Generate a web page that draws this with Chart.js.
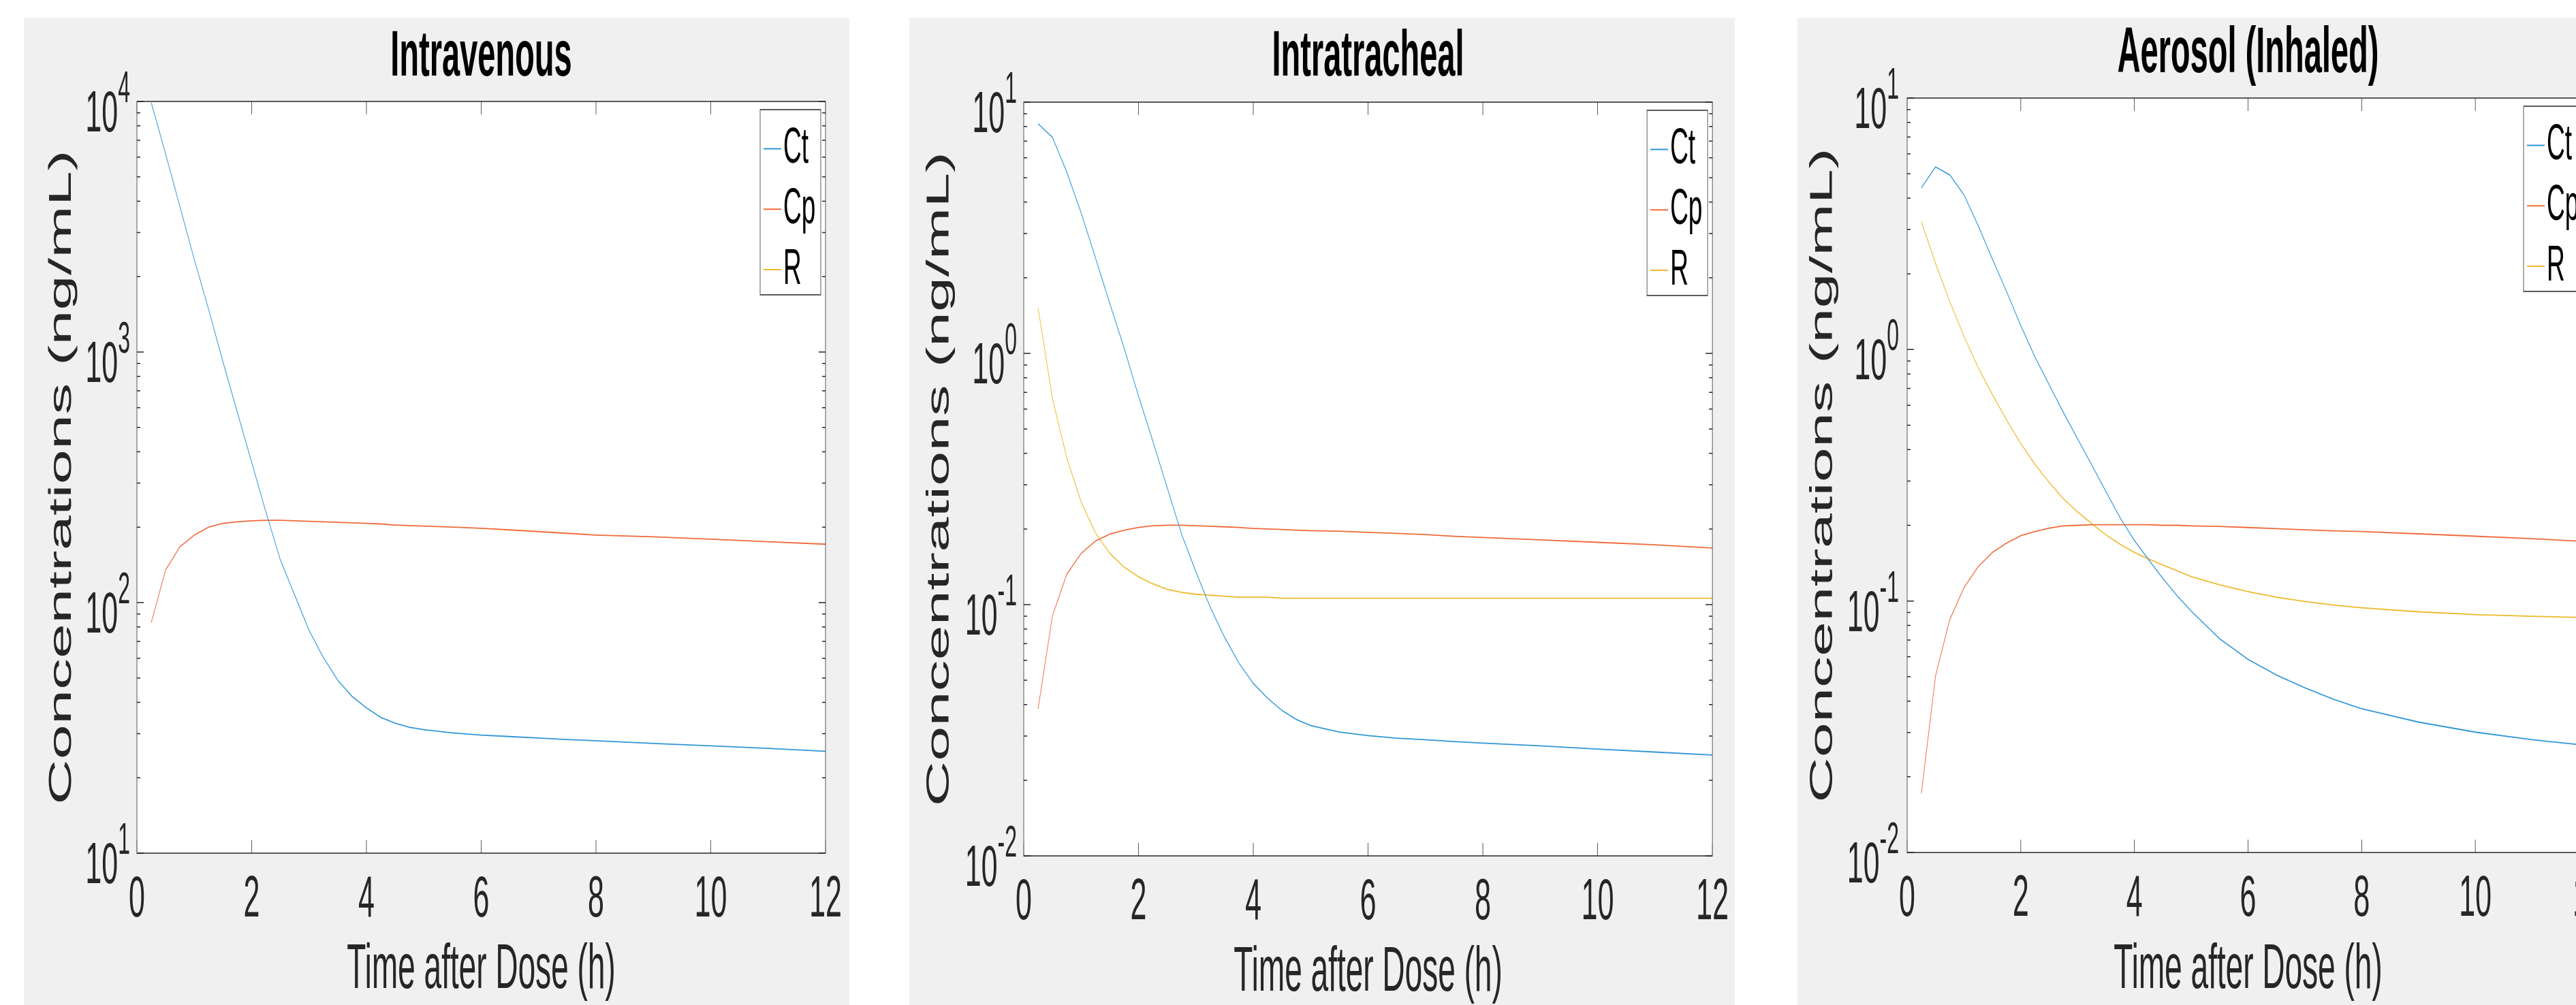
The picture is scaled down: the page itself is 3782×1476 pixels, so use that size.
<!DOCTYPE html>
<html>
<head>
<meta charset="utf-8">
<script src="https://cdn.jsdelivr.net/npm/chart.js@4.4.1/dist/chart.umd.min.js"></script>
<style>
    html, body { margin: 0; padding: 0; background: #ffffff; }
    body { width: 3782px; height: 1476px; position: relative; overflow: hidden; }
    /* the figure is stretched 2x vertically, as in the reference */
    .panel { position: absolute; top: 26px; width: 1212px; height: 725px; background: #f0f0f0;
             transform: scaleY(2); transform-origin: 0 0; }
</style>
</head>
<body>
<div class="panel" style="left:35px"><canvas id="ivChart" width="1212" height="725"></canvas></div>
<div class="panel" style="left:1335px"><canvas id="itChart" width="1212" height="725"></canvas></div>
<div class="panel" style="left:2639px"><canvas id="aeChart" width="1212" height="725"></canvas></div>
<script>
// time after dose (h)
const timeH = [0.25, 0.5, 0.75, 1, 1.25, 1.5, 1.75, 2, 2.25, 2.5, 2.75, 3, 3.25, 3.5, 3.75,
    4, 4.25, 4.5, 4.75, 5, 5.5, 6, 6.5, 7, 7.5, 8, 9, 10, 11, 12];

// Intravenous
const ivCt = [9890, 6170, 3800, 2340, 1480, 912, 575, 363, 229, 148, 107, 77.6, 60.3, 49.0, 42.2,
    38.0, 34.8, 33.0, 31.8, 31.1, 30.2, 29.6, 29.2, 28.8, 28.4, 28.1, 27.4, 26.8, 26.2, 25.5];
const ivCp = [83.2, 135, 167, 186, 200, 207, 210, 212, 213, 213, 212, 211, 210, 209, 208,
    207, 206, 204, 203, 202, 200, 198, 195, 192, 189, 186, 183, 179, 175, 171];
const ivR = [];

// Intratracheal
const itCt = [8.20, 7.24, 5.27, 3.63, 2.40, 1.58, 1.05, 0.676, 0.447, 0.292, 0.191, 0.135, 0.0977, 0.0741, 0.0585,
    0.0486, 0.0424, 0.0379, 0.0349, 0.0330, 0.0311, 0.0301, 0.0294, 0.0290, 0.0285, 0.0281, 0.0274, 0.0266, 0.0259, 0.0252];
const itCp = [0.0385, 0.0902, 0.132, 0.160, 0.179, 0.191, 0.198, 0.203, 0.206, 0.207, 0.207, 0.206, 0.205, 0.204, 0.203,
    0.201, 0.200, 0.199, 0.198, 0.197, 0.196, 0.194, 0.192, 0.190, 0.187, 0.185, 0.181, 0.177, 0.173, 0.168];
const itR = [1.52, 0.662, 0.384, 0.256, 0.193, 0.160, 0.141, 0.129, 0.121, 0.115, 0.112, 0.110, 0.109, 0.108, 0.107,
    0.107, 0.107, 0.106, 0.106, 0.106, 0.106, 0.106, 0.106, 0.106, 0.106, 0.106, 0.106, 0.106, 0.106, 0.106];

// Aerosol (Inhaled)
const aeCt = [4.39, 5.32, 4.95, 4.12, 3.11, 2.29, 1.70, 1.245, 0.933, 0.724, 0.562, 0.442, 0.347, 0.272, 0.214,
    0.174, 0.146, 0.123, 0.105, 0.0912, 0.0708, 0.0586, 0.0508, 0.0452, 0.0407, 0.0373, 0.0330, 0.0301, 0.0281, 0.0266];
const aeCp = [0.0172, 0.0504, 0.0843, 0.113, 0.137, 0.156, 0.170, 0.182, 0.189, 0.195, 0.199, 0.200, 0.201, 0.201, 0.201,
    0.201, 0.201, 0.200, 0.200, 0.199, 0.198, 0.196, 0.194, 0.192, 0.190, 0.189, 0.185, 0.181, 0.177, 0.172];
const aeR = [3.22, 2.20, 1.55, 1.13, 0.847, 0.662, 0.525, 0.423, 0.349, 0.296, 0.255, 0.226, 0.203, 0.183, 0.168,
    0.156, 0.147, 0.139, 0.132, 0.125, 0.116, 0.109, 0.1035, 0.0995, 0.0964, 0.0940, 0.0906, 0.0883, 0.0869, 0.0859];

const seriesNames = ['Ct', 'Cp', 'R'];
const seriesColors = ['#2f96d8', '#f06a3a', '#f0b92a'];
const xLabel = 'Time after Dose (h)';
const yLabel = 'Concentrations (ng/mL)';

const FONT = '"Liberation Sans", Arial, Helvetica, sans-serif';
const AXIS_COLOR = '#262626';
const PANEL_H = 725;

// log ticks 1..9 x 10^n, decades flagged as major
function decadeTicks(min, max) {
    const out = [];
    for (let e = Math.round(Math.log10(min)); e < Math.round(Math.log10(max)); e++) {
        for (let m = 1; m < 10; m++) {
            out.push({ value: m * Math.pow(10, e), major: m === 1 });
        }
    }
    out.push({ value: max, major: true });
    return out;
}

// white plot area, box with inward ticks, 10^n labels and a boxed legend
const matlabAxes = {
    id: 'matlabAxes',
    beforeDraw(chart) {
        const { ctx, chartArea: a } = chart;
        ctx.save();
        ctx.fillStyle = '#ffffff';
        ctx.fillRect(a.left, a.top, a.right - a.left, a.bottom - a.top);
        ctx.restore();
    },
    afterDraw(chart, args, opts) {
        const { ctx, chartArea: a } = chart;
        const xs = chart.scales.x;
        const ys = chart.scales.y;
        ctx.save();
        ctx.strokeStyle = AXIS_COLOR;
        ctx.lineWidth = 0.75;

        // ticks
        ctx.beginPath();
        xs.ticks.forEach(t => {
            const px = xs.getPixelForValue(t.value);
            ctx.moveTo(px, a.bottom); ctx.lineTo(px, a.bottom - 9.5);
            ctx.moveTo(px, a.top); ctx.lineTo(px, a.top + 9.5);
        });
        ys.ticks.forEach(t => {
            const py = ys.getPixelForValue(t.value);
            const len = t.major ? 10 : 5;
            ctx.moveTo(a.left, py); ctx.lineTo(a.left + len, py);
            ctx.moveTo(a.right, py); ctx.lineTo(a.right - len, py);
        });
        ctx.stroke();
        ctx.strokeRect(a.left, a.top, a.right - a.left, a.bottom - a.top);

        // y labels as 10 with superscript exponent
        ctx.fillStyle = AXIS_COLOR;
        ctx.textAlign = 'right';
        ctx.textBaseline = 'alphabetic';
        ys.ticks.filter(t => t.major).forEach(t => {
            const py = ys.getPixelForValue(t.value);
            const exp = String(Math.round(Math.log10(t.value)));
            const xr = a.left - opts.labelGap;
            ctx.font = '32px ' + FONT;
            ctx.fillText(exp, xr, py + 0.5);
            const w = ctx.measureText(exp).width;
            ctx.font = '43px ' + FONT;
            ctx.fillText('10', xr - w, py + 22);
        });

        // legend
        const lw = 89, lh = 136;
        const lx = a.right - 7 - lw, ly = a.top + 6;
        ctx.fillStyle = '#ffffff';
        ctx.fillRect(lx, ly, lw, lh);
        ctx.strokeRect(lx, ly, lw, lh);
        ctx.textAlign = 'left';
        ctx.textBaseline = 'middle';
        ctx.font = '37px ' + FONT;
        chart.data.datasets.forEach((ds, i) => {
            const cy = ly + 28.75 + i * 44.4;
            ctx.strokeStyle = ds.borderColor;
            ctx.lineWidth = 1;
            ctx.beginPath();
            ctx.moveTo(lx + 5, cy); ctx.lineTo(lx + 31, cy);
            ctx.stroke();
            ctx.fillStyle = '#000000';
            ctx.fillText(ds.label, lx + 34, cy);
        });
        ctx.restore();
    }
};

function makePanel(canvasId, title, series, yMin, yMax, box) {
    new Chart(document.getElementById(canvasId), {
        type: 'line',
        data: {
            datasets: seriesNames.map((name, i) => ({
                label: name,
                data: series[i].map((v, k) => ({ x: timeH[k], y: v })),
                borderColor: seriesColors[i],
                borderWidth: 0.9,
                pointRadius: 0,
                tension: 0,
                fill: false
            }))
        },
        options: {
            responsive: false,
            animation: false,
            devicePixelRatio: 2,
            layout: { padding: { left: 0, right: box.padRight, top: 0, bottom: 0 } },
            plugins: {
                legend: { display: false },
                tooltip: { enabled: false },
                title: {
                    display: true,
                    text: title,
                    fullSize: false,
                    color: '#000000',
                    font: { family: FONT, size: 47, weight: 'bold', lineHeight: 1.1 },
                    padding: { top: box.titleTop, bottom: box.plotTop - box.titleTop - 51.7 }
                },
                matlabAxes: { labelGap: box.labelGap }
            },
            scales: {
                x: {
                    type: 'linear',
                    min: 0,
                    max: 12,
                    ticks: {
                        stepSize: 2, autoSkip: false, maxRotation: 0, padding: 9,
                        color: AXIS_COLOR, font: { family: FONT, size: 43, lineHeight: 1.2 }
                    },
                    grid: { display: false, drawTicks: false },
                    border: { display: false },
                    title: {
                        display: true, text: xLabel, color: AXIS_COLOR,
                        font: { family: FONT, size: 46, lineHeight: 1 },
                        padding: { top: 0, bottom: box.xTitlePad }
                    },
                    afterFit: s => { s.height = PANEL_H - box.plotBottom; }
                },
                y: {
                    type: 'logarithmic',
                    min: yMin,
                    max: yMax,
                    ticks: { display: false },
                    grid: { display: false, drawTicks: false },
                    border: { display: false },
                    title: {
                        display: true, text: yLabel, color: AXIS_COLOR,
                        font: { family: FONT, size: 46, lineHeight: 1.2 },
                        padding: { top: box.yTitlePad, bottom: 0 }
                    },
                    afterBuildTicks: s => { s.ticks = decadeTicks(s.min, s.max); },
                    afterFit: s => { s.width = box.plotLeft; }
                }
            }
        },
        plugins: [matlabAxes]
    });
}

makePanel('ivChart', 'Intravenous', [ivCt, ivCp, ivR], 10, 10000,
    { plotLeft: 166, plotTop: 61.5, plotBottom: 613.5, padRight: 35, titleTop: 3.9, xTitlePad: 2.25, yTitlePad: 28.9, labelGap: 10 });
makePanel('itChart', 'Intratracheal', [itCt, itCp, itR], 0.01, 10,
    { plotLeft: 168, plotTop: 62, plotBottom: 615.5, padRight: 26, titleTop: 3.9, xTitlePad: 0, yTitlePad: 17, labelGap: 10 });
makePanel('aeChart', 'Aerosol (Inhaled)', [aeCt, aeCp, aeR], 0.01, 10,
    { plotLeft: 161, plotTop: 59, plotBottom: 613, padRight: 50, titleTop: 1.4, xTitlePad: 2.25, yTitlePad: 10, labelGap: 12 });
</script>
</body>
</html>
